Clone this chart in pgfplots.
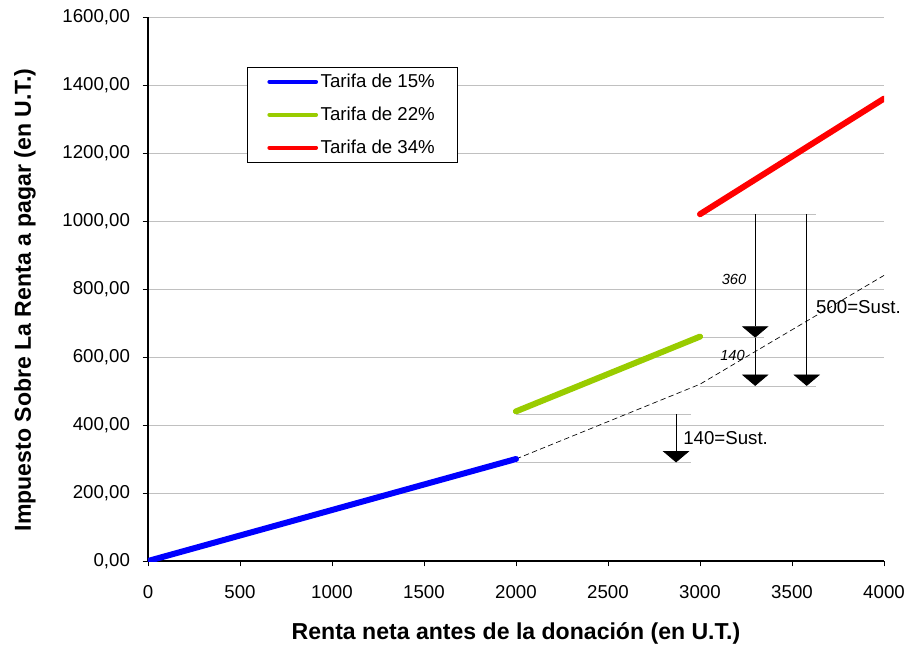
\documentclass[border=0pt]{standalone}
\usepackage{pgfplots}
\pgfplotsset{compat=1.18}
\usepackage{fontspec}
\setmainfont{Liberation Sans}
\usetikzlibrary{arrows.meta}

\definecolor{c15}{RGB}{0,0,255}
\definecolor{c22}{RGB}{153,204,0}
\definecolor{c34}{RGB}{255,0,0}
\definecolor{gridgray}{RGB}{192,192,192}

\begin{document}
\begin{tikzpicture}
\begin{axis}[
  scale only axis, width=552pt, height=408pt,
  at={(0,0)}, anchor=south west,
  xmin=0, xmax=4000, ymin=0, ymax=1600,
  xtick={0,500,...,4000}, ytick={0,200,...,1600},
  axis x line*=bottom, axis y line*=left,
  axis line style={black, line width=0.8pt, -},
  tick style={black, line width=0.6pt},
  tick align=outside, major tick length=4pt,
  ymajorgrids, grid style={gridgray, line width=0.6pt},
  /pgf/number format/assume math mode=true,
  /pgf/number format/set thousands separator={},
  yticklabel style={/pgf/number format/fixed, /pgf/number format/fixed zerofill,
    /pgf/number format/precision=2, /pgf/number format/use comma,
    /pgf/number format/1000 sep={}, xshift=-6pt},
  xticklabel style={yshift=-10.5pt},
  ticklabel style={font=\fontsize{14}{16}\selectfont},
  xlabel={Renta neta antes de la donación (en U.T.)},
  ylabel={Impuesto Sobre La Renta a pagar (en U.T.)},
  label style={font=\bfseries\fontsize{17.3}{20}\selectfont},
  xlabel style={at={(axis description cs:0.5,-0.133)}, anchor=center},
  ylabel style={at={(axis description cs:-0.167,0.48)}, anchor=center},
  clip mode=individual,
  legend style={at={(0.1345,0.908)}, anchor=north west, draw=black, line width=0.6pt,
    fill=white, font=\fontsize{14}{16}\selectfont, inner xsep=15pt, inner ysep=3pt,
    row sep=9pt},
  legend cell align=left,
  legend image code/.code={\draw[#1, line width=3pt, line cap=round] (0pt,0pt) -- (35pt,0pt);},
]
% helper lines
\addplot[gridgray, line width=0.6pt, forget plot] coordinates {(3000,1020) (3630,1020)};
\addplot[gridgray, line width=0.6pt, forget plot] coordinates {(3000,657) (3350,657)};
\addplot[gridgray, line width=0.6pt, forget plot] coordinates {(3000,515) (3630,515)};
\addplot[gridgray, line width=0.6pt, forget plot] coordinates {(2000,432) (2950,432)};
\addplot[gridgray, line width=0.6pt, forget plot] coordinates {(2000,290) (2950,290)};
% dashed progressive line
\addplot[black, line width=0.5pt, dash pattern=on 4pt off 2.5pt, forget plot] coordinates {(2000,300) (3000,520) (4000,840)};
% main series
\addplot[c15, line width=4.5pt, line cap=round] coordinates {(0,0) (2000,300)};
\addlegendentry{Tarifa de 15\%}
\addplot[c22, line width=4.5pt, line cap=round] coordinates {(2000,440) (3000,660)};
\addlegendentry{Tarifa de 22\%}
\addplot[c34, line width=4.5pt, line cap=round] coordinates {(3000,1020) (4000,1360)};
\addlegendentry{Tarifa de 34\%}
% arrows
\addplot[black, line width=0.6pt, -{Triangle[width=20pt,length=8.5pt]}, forget plot] coordinates {(3300,1020) (3300,657)};
\addplot[black, line width=0.6pt, -{Triangle[width=20pt,length=8.5pt]}, forget plot] coordinates {(3300,657) (3300,515)};
\addplot[black, line width=0.6pt, -{Triangle[width=20pt,length=8.5pt]}, forget plot] coordinates {(3580,1020) (3580,515)};
\addplot[black, line width=0.6pt, -{Triangle[width=20pt,length=8.5pt]}, forget plot] coordinates {(2870,432) (2870,290)};
% labels
\node[font=\itshape\fontsize{11}{13}\selectfont] at (axis cs:3185,827) {360};
\node[font=\itshape\fontsize{11}{13}\selectfont] at (axis cs:3177,605) {140};
\node[anchor=west, inner sep=0pt, font=\fontsize{14}{16}\selectfont] at (axis cs:3630,746) {500=Sust.};
\node[anchor=west, inner sep=0pt, font=\fontsize{14}{16}\selectfont] at (axis cs:2908,361) {140=Sust.};
\end{axis}
\pgfresetboundingbox
\path[use as bounding box] (-111pt,-63.75pt) rectangle (573pt,420.75pt);
\end{tikzpicture}
\end{document}
